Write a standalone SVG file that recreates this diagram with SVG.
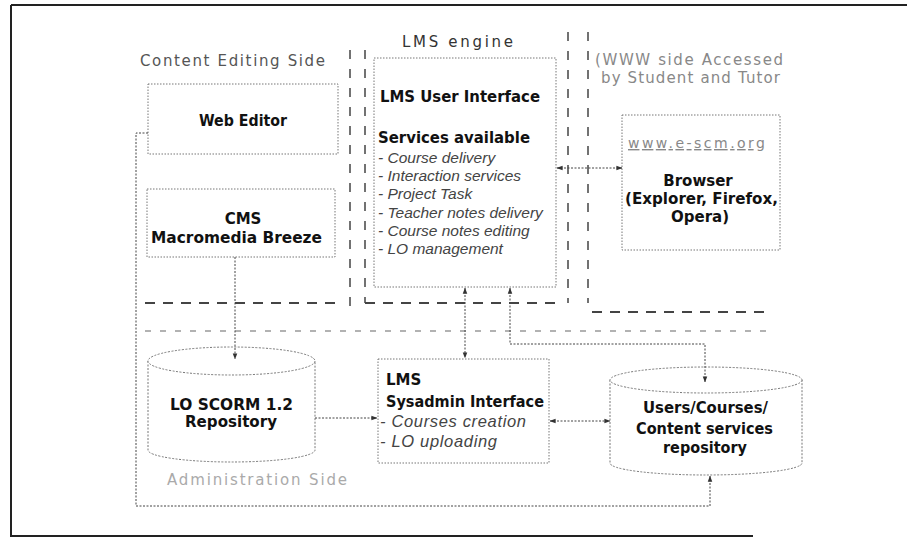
<svg xmlns="http://www.w3.org/2000/svg" width="907" height="539" viewBox="0 0 907 539">
<defs>
<marker id="ah" viewBox="0 0 8 8" refX="7.5" refY="4" markerWidth="6" markerHeight="6" orient="auto-start-reverse" markerUnits="userSpaceOnUse"><path d="M0,1 L8,4 L0,7 z" fill="#333"/></marker>
<style>
.box{fill:#fff;stroke:#777;stroke-width:1;stroke-dasharray:1.5 1.5}
.cyl{fill:#fff;stroke:#777;stroke-width:1;stroke-dasharray:2 1.5}
.con{fill:none;stroke:#444;stroke-width:1;stroke-dasharray:2 1.5}
.vsep{fill:none;stroke:#444;stroke-width:1.5;stroke-dasharray:9 10}
.hsep{fill:none;stroke:#444;stroke-width:2;stroke-dasharray:10 8}
.lsep{fill:none;stroke:#999;stroke-width:1.5;stroke-dasharray:6 9}
.b{font-family:"DejaVu Sans","Liberation Sans",sans-serif;font-weight:bold;font-size:15px;fill:#111}
.i{font-family:"Liberation Sans",Arial,sans-serif;font-style:italic;font-size:15.5px;fill:#444}
.i2{font-family:"Liberation Sans",Arial,sans-serif;font-style:italic;font-size:16.5px;fill:#444}
.g{font-family:"DejaVu Sans","Liberation Sans",sans-serif;font-size:15px}
</style>
</defs>
<rect width="907" height="539" fill="#fff"/>
<g id="frame" fill="none" stroke="#222" stroke-width="2">
<path d="M11,5 H907"/>
<path d="M11,5 V536 H753"/>
</g>
<g id="separators">
<path class="vsep" d="M350,50 V306"/>
<path class="vsep" d="M365,50 V303"/>
<path class="vsep" d="M568,32 V303"/>
<path class="vsep" d="M588,32 V303"/>
<path class="hsep" d="M145,303 H340"/>
<path class="hsep" d="M365,303 H558"/>
<path class="hsep" d="M592,312 H765"/>
<path class="lsep" d="M145,331 H768"/>
</g>
<g id="region-labels">
<text class="g" x="140" y="66" fill="#555" textLength="185" lengthAdjust="spacing">Content Editing Side</text>
<text class="g" x="402" y="47" fill="#333" textLength="111" lengthAdjust="spacing">LMS engine</text>
<text class="g" x="595" y="65" fill="#888" textLength="188" lengthAdjust="spacing">(WWW side Accessed</text>
<text class="g" x="601" y="83" fill="#888" textLength="179" lengthAdjust="spacing">by Student and Tutor</text>
<text class="g" x="167" y="485" fill="#aaa" textLength="180" lengthAdjust="spacing">Administration Side</text>
</g>
<g id="web-editor">
<rect class="box" x="148" y="84" width="190" height="70"/>
<text class="b" x="199" y="126" textLength="88" lengthAdjust="spacingAndGlyphs">Web Editor</text>
</g>
<g id="cms">
<rect class="box" x="147" y="189" width="188" height="68"/>
<text class="b" x="243" y="224" text-anchor="middle">CMS</text>
<text class="b" x="151" y="243" textLength="171" lengthAdjust="spacingAndGlyphs">Macromedia Breeze</text>
</g>
<g id="lms-user-interface">
<rect class="box" x="374" y="58" width="182" height="229"/>
<text class="b" x="380" y="102" textLength="160" lengthAdjust="spacingAndGlyphs">LMS User Interface</text>
<text class="b" x="378" y="143" style="font-size:15.5px" textLength="152" lengthAdjust="spacingAndGlyphs">Services available</text>
<text class="i" x="378" y="163">- Course delivery</text>
<text class="i" x="378" y="181">- Interaction services</text>
<text class="i" x="378" y="199">- Project Task</text>
<text class="i" x="378" y="217.5">- Teacher notes delivery</text>
<text class="i" x="378" y="235.5">- Course notes editing</text>
<text class="i" x="378" y="254">- LO management</text>
</g>
<g id="browser">
<rect class="box" x="622" y="115" width="158" height="135"/>
<text class="g" x="628" y="148" fill="#888" style="font-size:14px" text-decoration="underline" textLength="137" lengthAdjust="spacing">www.e-scm.org</text>
<text class="b" x="698" y="186" text-anchor="middle">Browser</text>
<text class="b" x="625" y="204" textLength="153" lengthAdjust="spacingAndGlyphs">(Explorer, Firefox,</text>
<text class="b" x="700" y="222" text-anchor="middle">Opera)</text>
</g>
<g id="lo-scorm-repository">
<path class="cyl" d="M148,361 V450 A83.5,12 0 0 0 315,450 V361"/>
<ellipse class="cyl" cx="231.5" cy="361" rx="83.5" ry="14"/>
<text class="b" x="170" y="410" textLength="123" lengthAdjust="spacingAndGlyphs">LO SCORM 1.2</text>
<text class="b" x="185" y="427" textLength="92" lengthAdjust="spacingAndGlyphs">Repository</text>
</g>
<g id="lms-sysadmin">
<rect class="box" x="378" y="359" width="171" height="104"/>
<text class="b" x="386" y="385">LMS</text>
<text class="b" x="386" y="407" textLength="158" lengthAdjust="spacingAndGlyphs">Sysadmin Interface</text>
<text class="i2" x="380" y="427" textLength="146" lengthAdjust="spacing">- Courses creation</text>
<text class="i2" x="380" y="447" textLength="117" lengthAdjust="spacing">- LO uploading</text>
</g>
<g id="users-repository">
<path class="cyl" d="M610,380 V463 A96,12 0 0 0 802,463 V380"/>
<ellipse class="cyl" cx="706" cy="380" rx="96" ry="13"/>
<text class="b" x="643" y="413" textLength="125" lengthAdjust="spacingAndGlyphs">Users/Courses/</text>
<text class="b" x="636" y="434" textLength="137" lengthAdjust="spacingAndGlyphs">Content services</text>
<text class="b" x="663" y="453" textLength="84" lengthAdjust="spacingAndGlyphs">repository</text>
</g>
<g id="connectors">
<path class="con" d="M148,133 H136 V506 H710 V476" marker-end="url(#ah)"/>
<path class="con" d="M235,257 V359" marker-end="url(#ah)"/>
<path class="con" d="M315,418 H377" marker-end="url(#ah)"/>
<path class="con" d="M465,288 V358" marker-start="url(#ah)" marker-end="url(#ah)"/>
<path class="con" d="M510,288 V344 H705 V382" marker-start="url(#ah)" marker-end="url(#ah)"/>
<path class="con" d="M550,421 H610" marker-start="url(#ah)" marker-end="url(#ah)"/>
<path class="con" d="M557,168 H622" marker-start="url(#ah)" marker-end="url(#ah)"/>
</g>
</svg>
